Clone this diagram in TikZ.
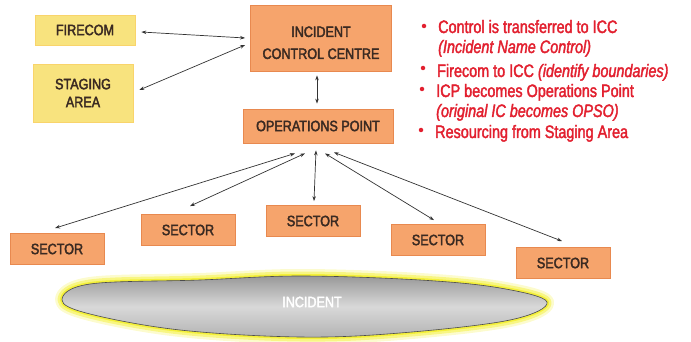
\documentclass[tikz,border=0pt]{standalone}
\usepackage{fontspec}
\setmainfont{Liberation Sans}[FakeStretch=0.85]
\newfontfamily\boxfont{Liberation Sans}[FakeStretch=0.84, FakeBold=2.5]
\newfontfamily\redfont{Liberation Sans}[FakeStretch=0.8, FakeBold=2]
\usetikzlibrary{arrows.meta,calc}
\definecolor{boxyellow}{HTML}{F8E37E}
\definecolor{boxorange}{HTML}{F6A46C}
\definecolor{orangeedge}{HTML}{E8894F}
\definecolor{labeltext}{HTML}{3A2A22}
\definecolor{bulletred}{HTML}{E2202F}
\definecolor{glow}{HTML}{F4F03A}
\tikzset{
  ybox/.style={fill=boxyellow, draw=boxyellow!85!orange, line width=0.6pt, text=labeltext, font=\boxfont\fontsize{15}{16}\selectfont, align=center, inner sep=0pt},
  obox/.style={fill=boxorange, draw=orangeedge, line width=0.8pt, text=labeltext, font=\boxfont\fontsize{15}{16}\selectfont, align=center, inner sep=0pt},
  sectorbox/.style={obox, minimum width=94pt, minimum height=31pt},
  link/.style={draw=black!80, line width=0.7pt, {Stealth[length=5pt,width=3.5pt]}-{Stealth[length=5pt,width=3.5pt]}},
  redtxt/.style={text=bulletred, font=\redfont\fontsize{18}{19}\selectfont, anchor=base west, inner sep=0pt},
  reddot/.style={circle, fill=bulletred, inner sep=0pt, minimum size=4.5pt},
}
\begin{document}
\begin{tikzpicture}[x=1pt,y=-1pt]
\useasboundingbox (0,0) rectangle (691,342);
% boxes
\node[ybox, minimum width=100pt, minimum height=30pt] (firecom) at (85,30) {FIRECOM};
\node[ybox, minimum width=100pt, minimum height=58pt] (staging) at (83,93) {STAGING\\[2pt]AREA};
\node[obox, minimum width=141pt, minimum height=66pt] (icc) at (321,38) {\rule{0pt}{20pt}INCIDENT\\[6pt]CONTROL CENTRE};
\node[obox, minimum width=150pt, minimum height=34pt] (op) at (318,126) {OPERATIONS POINT};
\node[sectorbox] (s1) at (57,249) {SECTOR};
\node[sectorbox] (s2) at (188,230) {SECTOR};
\node[sectorbox] (s3) at (313,221) {SECTOR};
\node[sectorbox] (s4) at (438,240) {SECTOR};
\node[sectorbox] (s5) at (563,263) {SECTOR};
% incident blob
\def\blobpath{plot[smooth cycle, tension=0.6] coordinates {(62,300) (90,284) (200,280) (300,276) (420,280) (500,288) (547,302) (510,320) (400,333) (300,337) (180,330) (90,314)}}
\path[draw=glow, line width=14pt, line join=round, opacity=0.25] \blobpath;
\path[draw=glow, line width=9pt, line join=round, opacity=0.5] \blobpath;
\path[draw=glow, line width=4pt, line join=round] \blobpath;
\shade[top color=gray!80, bottom color=gray!60, middle color=gray!30, draw=gray!60!black, line width=0.6pt] \blobpath;
\node[text=white, font=\boxfont\fontsize{15}{16}\selectfont] (incident) at (312,302) {INCIDENT};
% connectors
\draw[link] ($(firecom.east)+(6,2)$) -- ($(icc.west)+(-5,0)$);
\draw[link] ($(staging.east)+(6,-3)$) -- ($(icc.west)+(-5,7)$);
\draw[link] ($(icc.south)+(-4,4)$) -- ($(op.north)+(-1,-5)$);
\draw[link] ($(op.south)+(-23,10)$) -- ($(s1.north)+(-2,-5)$);
\draw[link] ($(op.south)+(-13,10)$) -- ($(s2.north)+(2,-8)$);
\draw[link] ($(op.south)+(-2,7)$) -- ($(s3.north)+(1,-4)$);
\draw[link] ($(op.south)+(7,10)$) -- ($(s4.north)+(-4,-4)$);
\draw[link] ($(op.south)+(16,9)$) -- ($(s5.north)+(-1,-6)$);
% red bullet list
\node[reddot] (b1) at (424,26) {};
\node[redtxt] (t1) at (438,33) {Control is transferred to ICC};
\node[redtxt] (t1b) at (438,53) {\itshape(Incident Name Control)};
\node[reddot] (b2) at (423,68) {};
\node[redtxt] (t2) at (437,77) {Firecom to ICC \itshape(identify boundaries)};
\node[reddot] (b3) at (422,89) {};
\node[redtxt] (t3) at (436,97) {ICP becomes Operations Point};
\node[redtxt] (t3b) at (436,117) {\itshape(original IC becomes OPSO)};
\node[reddot] (b4) at (421,130) {};
\node[redtxt] (t4) at (435,138) {Resourcing from Staging Area};
\end{tikzpicture}
\end{document}
